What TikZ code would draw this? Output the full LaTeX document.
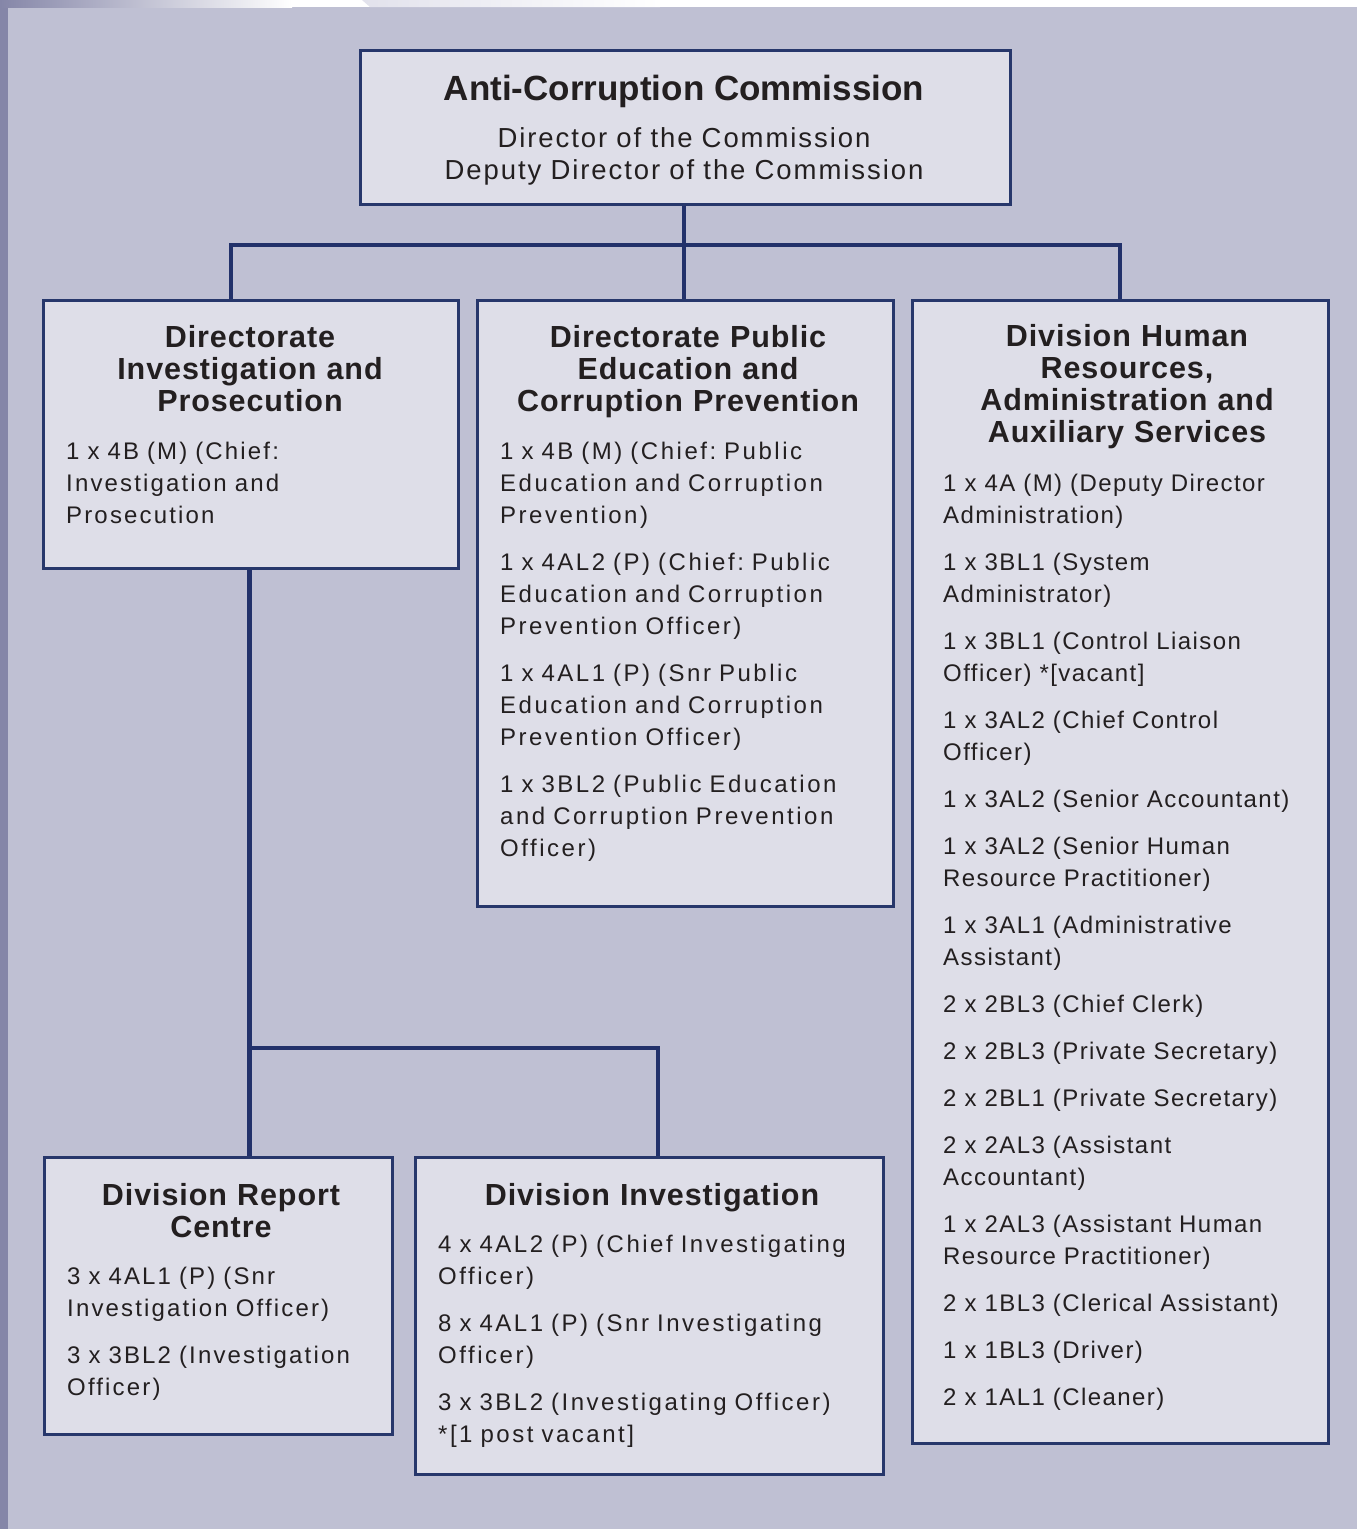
\documentclass[tikz,border=0pt]{standalone}
\usepackage{fontspec}
\setmainfont{Liberation Sans}
\newfontfamily\bodyf[LetterSpace=9]{Liberation Sans}
\newfontfamily\bodywf[LetterSpace=10.5]{Liberation Sans}
\newfontfamily\bodyrf[LetterSpace=6]{Liberation Sans}
\newfontfamily\topbodyf[LetterSpace=7]{Liberation Sans}
\newfontfamily\headf[LetterSpace=3]{Liberation Sans}
\newfontfamily\topheadf{Liberation Sans}
\definecolor{bg}{HTML}{BFC0D3}
\definecolor{boxfill}{HTML}{DEDEE8}
\definecolor{boxline}{HTML}{27376B}
\definecolor{connline}{HTML}{22316A}
\definecolor{stripc}{HTML}{8586A8}
\definecolor{stripl}{HTML}{E2E2EC}
\definecolor{txt}{HTML}{231F20}
\frenchspacing
\begin{document}
\begin{tikzpicture}[x=1pt,y=-1pt,
  orgbox/.style={draw=boxline, line width=2.5pt, fill=boxfill, inner sep=0pt, anchor=north west},
  conn/.style={draw=connline, line width=4.6pt},
  headtxt/.style={anchor=base, inner sep=0pt, text width=420pt, align=center, text=txt,
     font=\headf\bfseries\fontsize{30.5}{32.2}\selectfont},
  bodytxt/.style={anchor=base west, inner sep=0pt, text width=400pt, align=left, text=txt,
     font=\bodyf\frenchspacing\fontsize{24}{32}\selectfont},
  bodywtxt/.style={bodytxt, font=\bodywf\frenchspacing\fontsize{24}{32}\selectfont},
  bodyrtxt/.style={bodytxt, font=\bodyrf\frenchspacing\fontsize{24}{32}\selectfont}]
\useasboundingbox (0,0) rectangle (1357,1529);
% background
\fill[bg] (0,7) rectangle (1357,1529);
\fill[stripc] (0,7) rectangle (8,1529);
\fill[white] (0,0) rectangle (1357,7);
\shade[left color=stripc, right color=white] (0,0) rectangle (292,7);
\shade[left color=stripl, right color=white] (362,0) -- (660,0) -- (660,7) -- (370,7) -- cycle;

% connector coordinates
\coordinate (busL) at (231,245);
\coordinate (busR) at (1120,245);
\coordinate (jL) at (249.5,1048);
\coordinate (jR) at (658,1048);

\draw[conn] (684,203) -- (684,299);
\draw[conn] (busL |- 0,299) -- (busL) -- (busR) -- (busR |- 0,299);
\draw[conn] (249.5,567) -- (249.5,1156);
\draw[conn] (jL) -- (jR) -- (jR |- 0,1156);

\node[orgbox, minimum width=650pt, minimum height=154pt] (acc) at (359,49) {};
\node[orgbox, minimum width=415pt, minimum height=268pt] (dip) at (42,299) {};
\node[orgbox, minimum width=416pt, minimum height=606pt] (dpe) at (476,299) {};
\node[orgbox, minimum width=416pt, minimum height=1143pt] (dhr) at (911,299) {};
\node[orgbox, minimum width=348pt, minimum height=277pt] (drc) at (43,1156) {};
\node[orgbox, minimum width=468pt, minimum height=317pt] (div) at (414,1156) {};

% top box texts
\node[anchor=base, inner sep=0pt, text=txt, font=\topheadf\bfseries\fontsize{35}{38}\selectfont] (acct) at (684,100) {Anti-Corruption Commission};
\node[anchor=base, inner sep=0pt, text width=560pt, align=center, text=txt, font=\topbodyf\fontsize{27.5}{31.7}\selectfont] (accb) at (684,147.7) {Director of the Commission\\Deputy Director of the Commission};

% Directorate Investigation and Prosecution
\node[headtxt] (dipt) at (250,347) {Directorate\\Investigation and\\Prosecution};
\node[bodytxt] (dipb) at (66,459) {1 x 4B (M) (Chief:\\Investigation and\\Prosecution};

% Directorate Public Education
\node[headtxt] (dpet) at (688,347) {Directorate Public\\Education and\\Corruption Prevention};
\node[bodywtxt] (dpeb) at (500,459) {1 x 4B (M) (Chief: Public\\Education and Corruption\\Prevention)\\[15pt]1 x 4AL2 (P) (Chief: Public\\Education and Corruption\\Prevention Officer)\\[15pt]1 x 4AL1 (P) (Snr Public\\Education and Corruption\\Prevention Officer)\\[15pt]1 x 3BL2 (Public Education\\and Corruption Prevention\\Officer)};

% Division Human Resources
\node[headtxt] (dhrt) at (1127,346) {Division Human\\Resources,\\Administration and\\Auxiliary Services};
\node[bodyrtxt, text width=390pt] (dhrb) at (943,491) {1 x 4A (M) (Deputy Director\\Administration)\\[15pt]1 x 3BL1 (System\\Administrator)\\[15pt]1 x 3BL1 (Control Liaison\\Officer) *[vacant]\\[15pt]1 x 3AL2 (Chief Control\\Officer)\\[15pt]1 x 3AL2 (Senior Accountant)\\[15pt]1 x 3AL2 (Senior Human\\Resource Practitioner)\\[15pt]1 x 3AL1 (Administrative\\Assistant)\\[15pt]2 x 2BL3 (Chief Clerk)\\[15pt]2 x 2BL3 (Private Secretary)\\[15pt]2 x 2BL1 (Private Secretary)\\[15pt]2 x 2AL3 (Assistant\\Accountant)\\[15pt]1 x 2AL3 (Assistant Human\\Resource Practitioner)\\[15pt]2 x 1BL3 (Clerical Assistant)\\[15pt]1 x 1BL3 (Driver)\\[15pt]2 x 1AL1 (Cleaner)};

% Division Report Centre
\node[headtxt] (drct) at (221,1205) {Division Report\\Centre};
\node[bodytxt] (drcb) at (67,1284) {3 x 4AL1 (P) (Snr\\Investigation Officer)\\[15pt]3 x 3BL2 (Investigation\\Officer)};

% Division Investigation
\node[headtxt] (divt) at (652,1205) {Division Investigation};
\node[bodywtxt] (divb) at (438,1252) {4 x 4AL2 (P) (Chief Investigating\\Officer)\\[15pt]8 x 4AL1 (P) (Snr Investigating\\Officer)\\[15pt]3 x 3BL2 (Investigating Officer)\\{}*[1 post vacant]};
\end{tikzpicture}
\end{document}
